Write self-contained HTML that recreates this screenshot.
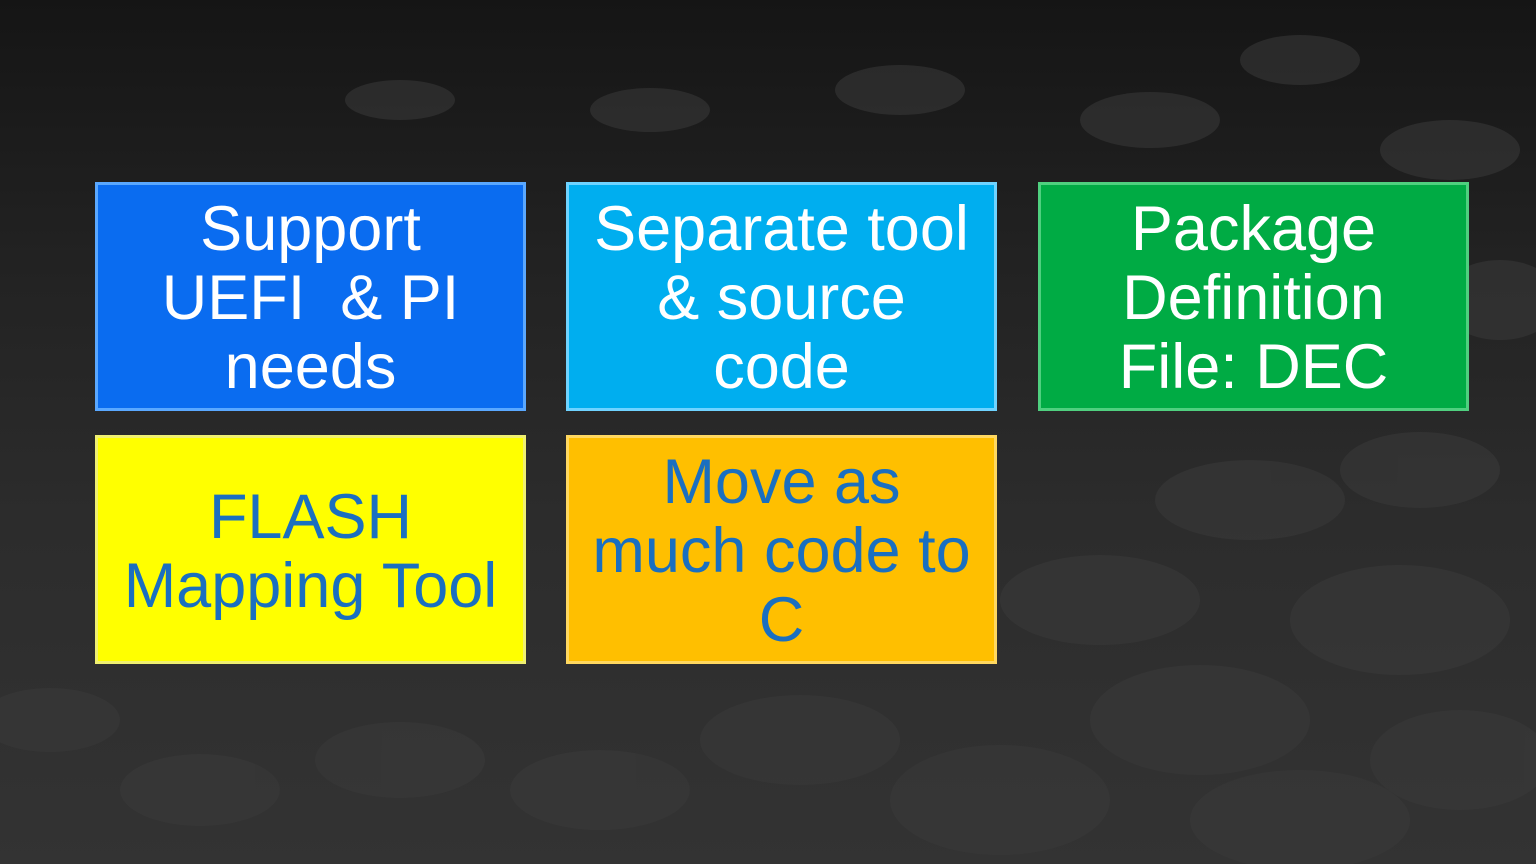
<!DOCTYPE html>
<html><head><meta charset="utf-8"><style>
html,body{margin:0;padding:0}
body{width:1536px;height:864px;overflow:hidden;position:relative;
background:linear-gradient(180deg,#151515 0%,#222 30%,#2c2c2c 60%,#333 100%);font-family:"Liberation Sans",Arial,sans-serif}
.bg{position:absolute;inset:0}
.b{position:absolute;width:431px;height:229px;display:flex;align-items:center;justify-content:center;text-align:center;font-size:63px;line-height:69px;box-sizing:border-box;padding-top:4px}
</style></head><body>
<svg class="bg" width="1536" height="864">
<g fill="#3a3a3a" opacity="0.55">
<ellipse cx="1200" cy="720" rx="110" ry="55"/><ellipse cx="1400" cy="620" rx="110" ry="55"/><ellipse cx="1000" cy="800" rx="110" ry="55"/>
<ellipse cx="1300" cy="820" rx="110" ry="50"/><ellipse cx="1460" cy="760" rx="90" ry="50"/><ellipse cx="1100" cy="600" rx="100" ry="45"/>
<ellipse cx="800" cy="740" rx="100" ry="45"/><ellipse cx="600" cy="790" rx="90" ry="40"/><ellipse cx="400" cy="760" rx="85" ry="38"/>
<ellipse cx="200" cy="790" rx="80" ry="36"/><ellipse cx="1250" cy="500" rx="95" ry="40"/><ellipse cx="1420" cy="470" rx="80" ry="38"/>
<ellipse cx="1150" cy="120" rx="70" ry="28"/><ellipse cx="1300" cy="60" rx="60" ry="25"/><ellipse cx="900" cy="90" rx="65" ry="25"/>
<ellipse cx="650" cy="110" rx="60" ry="22"/><ellipse cx="400" cy="100" rx="55" ry="20"/><ellipse cx="1450" cy="150" rx="70" ry="30"/>
<ellipse cx="50" cy="720" rx="70" ry="32"/><ellipse cx="1500" cy="300" rx="60" ry="40"/>
</g></svg>
<div class="b" style="left:95px;top:182px;background:#0a6cf0;color:#fff;border:3px solid #5aa8ff">Support<br>UEFI&nbsp; &amp; PI<br>needs</div>
<div class="b" style="left:566px;top:182px;background:#00aeef;color:#fff;border:3px solid #6fd3ff">Separate tool<br>&amp; source<br>code</div>
<div class="b" style="left:1038px;top:182px;background:#00ab44;color:#fff;border:3px solid #4fd07f">Package<br>Definition<br>File: DEC</div>
<div class="b" style="left:95px;top:435px;background:#ffff00;color:#1a6fc0;border:3px solid #f0f070">FLASH<br>Mapping Tool</div>
<div class="b" style="left:566px;top:435px;background:#ffbf00;color:#1a6fc0;border:3px solid #ffd860">Move as<br>much code to<br>C</div>
</body></html>
